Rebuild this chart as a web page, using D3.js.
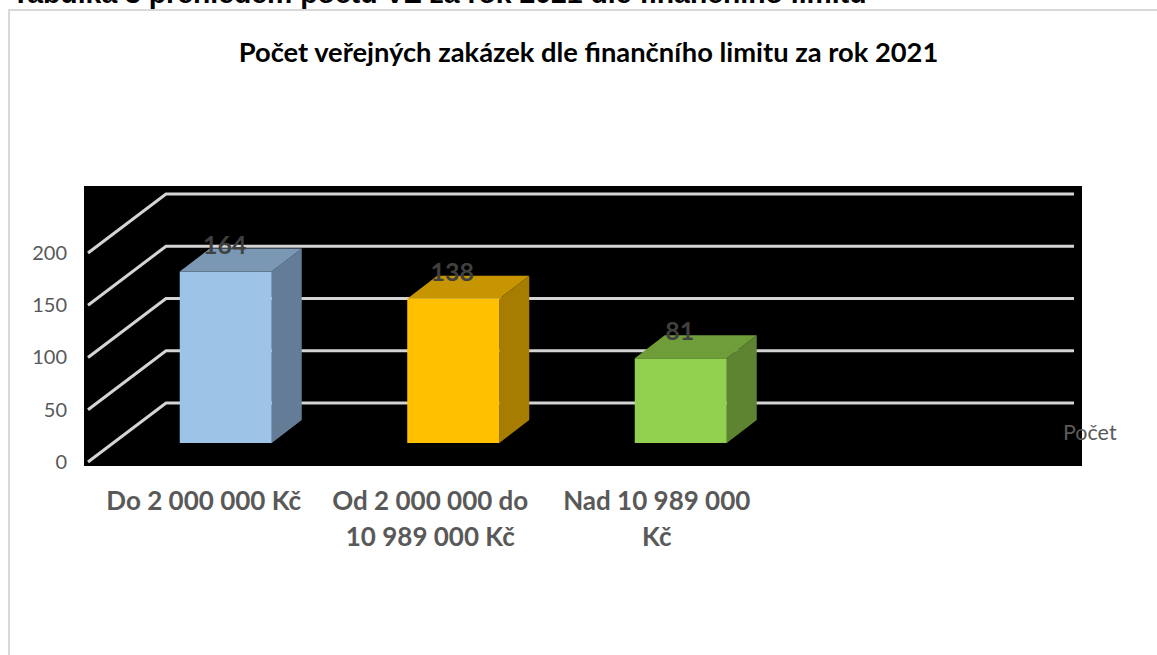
<!DOCTYPE html>
<html>
<head>
<meta charset="utf-8">
<script src="https://cdn.jsdelivr.net/npm/d3@7"></script>
<style>
  html, body { margin: 0; padding: 0; background: #fff; overflow: hidden; }
  svg { display: block; }
  text { font-family: Lato, "Noto Sans", sans-serif; }
</style>
</head>
<body>
<svg id="chart" width="1157" height="655"></svg>
<script>
var categories = ["Do 2 000 000 Kč", "Od 2 000 000 do|10 989 000 Kč", "Nad 10 989 000|Kč"];
var values = [164, 138, 81];
var yTicks = [0, 50, 100, 150, 200];
var frontColors = ["#9dc3e6", "#ffc000", "#92d050"];
var topColors = ["#7a97b3", "#c69500", "#6f9d3a"];
var sideColors = ["#647c96", "#a67d00", "#5e8431"];

var heading = "Tabulka 3 přehledem počtu VZ za rok 2021 dle finančního limitu";
var title = "Počet veřejných zakázek dle finančního limitu za rok 2021";

var svg = d3.select("#chart");

// heading of the page, cut off by the top edge
svg.append("text")
  .attr("x", 12)
  .attr("y", 3)
  .style("font-family", "'Liberation Sans', sans-serif")
  .style("font-size", "28.4px")
  .style("font-weight", "bold")
  .attr("fill", "#000")
  .text(heading);

// chart frame, open on the right and bottom
svg.append("path")
  .attr("d", "M9,655V10H1157")
  .attr("fill", "none")
  .attr("stroke", "#d9d9d9")
  .attr("stroke-width", 2);

svg.append("text")
  .attr("x", 588.5)
  .attr("y", 62)
  .attr("text-anchor", "middle")
  .style("font-size", "27.3px")
  .style("font-weight", "bold")
  .attr("fill", "#000")
  .text(title);

svg.append("rect")
  .attr("x", 84)
  .attr("y", 186)
  .attr("width", 998)
  .attr("height", 280)
  .attr("fill", "#000");

var y = d3.scaleLinear().domain([0, 200]).range([462, 253]);
// one empty band on the right, the chart leaves room for it
var x = d3.scaleBand()
  .domain([0, 1, 2, 3])
  .range([112, 1022])
  .paddingInner(135.5 / 227.5)
  .paddingOuter(67.75 / 227.5);

var wallDx = 78, wallDy = 59;
var barDx = 30, barDy = 23;
var floorLift = 19;

// gridlines run along the side wall and the back wall
svg.append("g").selectAll("path")
  .data(yTicks)
  .enter().append("path")
  .attr("d", function (d) {
    return d3.line()([[88, y(d)], [88 + wallDx, y(d) - wallDy], [1074, y(d) - wallDy]]);
  })
  .attr("fill", "none")
  .attr("stroke", "#d4d4d4")
  .attr("stroke-width", 3);

var yAxis = d3.axisLeft(y).tickValues(yTicks).tickSize(0).tickPadding(0);
var yAxisG = svg.append("g")
  .attr("transform", "translate(67,0)")
  .call(yAxis);
yAxisG.select(".domain").remove();
yAxisG.selectAll("text")
  .style("font-family", "Lato, sans-serif")
  .style("font-size", "20px")
  .attr("fill", "#595959");

var bars = svg.append("g").selectAll("g")
  .data(values)
  .enter().append("g");

bars.append("path")
  .attr("d", function (d, i) {
    var x1 = x(i) + x.bandwidth(), y0 = y(0) - floorLift, y1 = y(d) - floorLift;
    return d3.line()([[x1, y0], [x1 + barDx, y0 - barDy], [x1 + barDx, y1 - barDy], [x1, y1]]) + "Z";
  })
  .attr("fill", function (d, i) { return sideColors[i]; });

bars.append("path")
  .attr("d", function (d, i) {
    var x0 = x(i), x1 = x0 + x.bandwidth(), y1 = y(d) - floorLift;
    return d3.line()([[x0, y1], [x0 + barDx, y1 - barDy], [x1 + barDx, y1 - barDy], [x1, y1]]) + "Z";
  })
  .attr("fill", function (d, i) { return topColors[i]; });

bars.append("rect")
  .attr("x", function (d, i) { return x(i); })
  .attr("y", function (d) { return y(d) - floorLift; })
  .attr("width", x.bandwidth())
  .attr("height", function (d) { return y(0) - y(d); })
  .attr("fill", function (d, i) { return frontColors[i]; });

bars.append("text")
  .attr("x", function (d, i) { return x(i) + x.bandwidth() / 2 - 1; })
  .attr("y", function (d) { return y(d) - floorLift - 18; })
  .attr("text-anchor", "middle")
  .style("font-size", "25px")
  .style("font-weight", "bold")
  .attr("fill", "#404040")
  .text(function (d) { return d; });

// category labels sit left of the bar centres, wrapped on two lines
var catLabels = svg.append("g").selectAll("text")
  .data(categories)
  .enter().append("text")
  .attr("text-anchor", "middle")
  .style("font-size", "26px")
  .style("font-weight", "bold")
  .attr("fill", "#595959");

catLabels.selectAll("tspan")
  .data(function (d, i) {
    return d.split("|").map(function (line) { return { line: line, i: i }; });
  })
  .enter().append("tspan")
  .attr("x", function (d) { return x(d.i) + x.bandwidth() / 2 - 22 - d.i; })
  .attr("y", function (d, j) { return 510 + j * 36; })
  .text(function (d) { return d.line; });

svg.append("text")
  .attr("x", 1063)
  .attr("y", 440)
  .style("font-size", "21.5px")
  .attr("fill", "#595959")
  .text("Počet");
</script>
</body>
</html>
